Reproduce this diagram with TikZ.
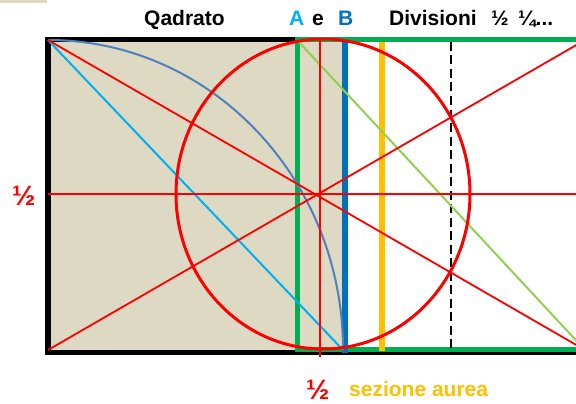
\documentclass[tikz,border=0pt]{standalone}
\usepackage{fontspec}
\setmainfont{Liberation Sans}
\definecolor{beige}{HTML}{DDD9C3}
\definecolor{ogreen}{HTML}{00B050}
\definecolor{oblue}{HTML}{0070C0}
\definecolor{lblue}{HTML}{00B0F0}
\definecolor{oyellow}{HTML}{FFC000}
\definecolor{lgreen}{HTML}{92D050}
\definecolor{arcblue}{HTML}{4F81BD}
\definecolor{ored}{HTML}{FF0000}
\begin{document}
\begin{tikzpicture}[x=1pt,y=-1pt,
  lbl/.style={font=\bfseries\fontsize{21}{21}\selectfont, inner sep=0pt, anchor=base west},
  half/.style={font=\bfseries\fontsize{28}{28}\selectfont, inner sep=0pt, anchor=base west, text=ored},
  redline/.style={draw=ored, line width=1.8pt},
  thick6/.style={line width=5.5pt}]
\useasboundingbox (0,0) rectangle (576,404);
\clip (0,0) rectangle (576,404);
% key points
\coordinate (TL) at (48,40);
\coordinate (BL) at (48,350);
\coordinate (TR) at (585,40);
\coordinate (BR) at (585,350);
\coordinate (ML) at (48,194);
\coordinate (MR) at (585,194);
\coordinate (SQBR) at (343,350);
\coordinate (C) at (323,194);
% fills
\fill[beige] (0,0) rectangle (47,3);
\fill[beige] (TL) rectangle (SQBR);
% black square border
\draw[black, thick6] (48,352.5) -- (585,352.5);
\draw[black, thick6] (48,355) -- (48,39.5) -- (297,39.5);
% green rectangle
\draw[ogreen, line width=5pt] (297.5,350) -- (297.5,39.5) -- (585,39.5);
\draw[ogreen, line width=5pt] (295,349.5) -- (585,349.5);
% blue B and yellow
\coordinate (Bt) at (345,42); \coordinate (Bb) at (345,353);
\draw[oblue, line width=6pt] (Bt) -- (Bb);
\coordinate (Yt) at (382,42); \coordinate (Yb) at (382,351);
\draw[oyellow, line width=6pt] (Yt) -- (Yb);
% dashed line
\coordinate (Dt) at (451,42); \coordinate (Db) at (451,349);
\draw[black, line width=2.4pt, dash pattern=on 9pt off 4.5pt] (Dt) -- (Db);
% diagonals
\draw[lblue, line width=2pt] (TL) -- (SQBR);
\coordinate (At) at (297,40);
\draw[lgreen, line width=2pt] (At) -- (BR);
\draw[arcblue, line width=2pt] (TL) arc[start angle=90, end angle=0, x radius=295pt, y radius=310pt];
% red lines
\draw[redline] (TL) -- (BR);
\draw[redline] (BL) -- (TR);
\draw[redline] (ML) -- (MR);
\coordinate (Vt) at (320,40); \coordinate (Vb) at (320,357);
\draw[redline] (Vt) -- (Vb);
\draw[ored, line width=3pt] (C) ellipse[x radius=147pt, y radius=155pt];
% labels
\node[lbl] (qad) at (144,26) {Qadrato};
\node[lbl, text=lblue] (A) at (289,26) {A};
\node[lbl] (e) at (312,26) {e};
\node[lbl, text=oblue] (B) at (338,26) {B};
\node[lbl] (div) at (389,26) {Divisioni};
\node[lbl] (h1) at (491,26) {½};
\node[lbl] (q1) at (518,26) {¼...};
\node[half] (hl) at (12,205) {½};
\node[half] (hb) at (306,399) {½};
\node[lbl, text=oyellow] (sez) at (349,396) {sezione aurea};
\end{tikzpicture}
\end{document}
